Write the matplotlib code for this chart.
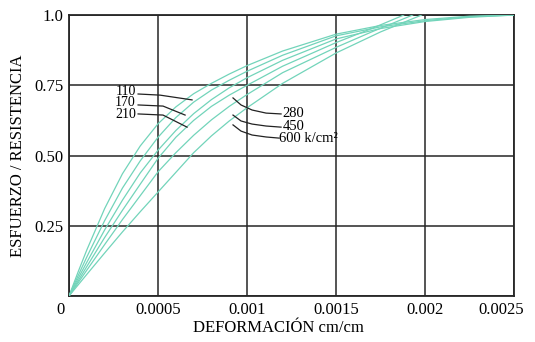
#!/usr/bin/env python3
# -*- coding: utf-8 -*-

import numpy as np
import matplotlib
matplotlib.use('Agg')
import matplotlib.pyplot as plt
import matplotlib.transforms as mtrans

plt.rcParams['font.family'] = ['Liberation Serif', 'DejaVu Serif']

# strain in units of 1e-3 cm/cm, stress as fraction of strength
e_110 = [0, 0.05, 0.1, 0.2, 0.3, 0.4, 0.5, 0.6, 0.7, 0.8, 0.9, 1.0, 1.2, 1.5, 1.75, 2.0, 2.25, 2.5]
f_110 = [0, 0.084, 0.164, 0.311, 0.435, 0.534, 0.613, 0.673, 0.72, 0.757, 0.79, 0.82, 0.872, 0.932, 0.963, 0.984, 0.996, 1.0]
e_170 = [0, 0.05, 0.1, 0.2, 0.3, 0.4, 0.5, 0.6, 0.7, 0.8, 0.9, 1.0, 1.2, 1.5, 1.75, 2.0, 2.25, 2.5]
f_170 = [0, 0.071, 0.139, 0.268, 0.384, 0.481, 0.565, 0.635, 0.69, 0.733, 0.768, 0.80, 0.857, 0.926, 0.958, 0.98, 0.994, 1.0]
e_210 = [0, 0.05, 0.1, 0.2, 0.3, 0.4, 0.5, 0.6, 0.7, 0.8, 0.9, 1.0, 1.2, 1.5, 1.75, 2.0, 2.25, 2.5]
f_210 = [0, 0.061, 0.12, 0.235, 0.341, 0.438, 0.519, 0.589, 0.649, 0.699, 0.741, 0.777, 0.839, 0.915, 0.952, 0.977, 0.992, 1.0]
e_280 = [0, 0.1, 0.2, 0.3, 0.4, 0.5, 0.6, 0.7, 0.8, 0.9, 1.0, 1.2, 1.5, 1.7, 1.88]
f_280 = [0, 0.105, 0.208, 0.305, 0.398, 0.49, 0.565, 0.625, 0.675, 0.715, 0.75, 0.818, 0.902, 0.952, 1.0]
e_450 = [0, 0.1, 0.2, 0.3, 0.4, 0.5, 0.6, 0.7, 0.8, 0.9, 1.0, 1.2, 1.5, 1.7, 1.93]
f_450 = [0, 0.092, 0.183, 0.272, 0.357, 0.442, 0.51, 0.572, 0.627, 0.675, 0.717, 0.795, 0.885, 0.94, 1.0]
e_600 = [0, 0.1, 0.2, 0.3, 0.4, 0.5, 0.6, 0.7, 0.8, 0.9, 1.0, 1.2, 1.5, 1.75, 1.98]
f_600 = [0, 0.077, 0.153, 0.228, 0.3, 0.37, 0.44, 0.51, 0.57, 0.623, 0.67, 0.757, 0.865, 0.94, 1.0]

curves = [(e_110, f_110), (e_170, f_170), (e_210, f_210),
          (e_280, f_280), (e_450, f_450), (e_600, f_600)]

x_ticks = [0, 0.0005, 0.001, 0.0015, 0.002, 0.0025]
x_labels = ['0', '0.0005', '0.001', '0.0015', '0.002', '0.0025']
y_ticks = [0, 0.25, 0.5, 0.75, 1.0]
y_labels = ['', '0.25', '0.50', '0.75', '1.0']

# label text, text anchor, leader line (strain, stress)
left_notes = [
    ('110', (0.000375, 0.729), [(0.000388, 0.719), (0.000511, 0.715), (0.000691, 0.698)]),
    ('170', (0.000375, 0.687), [(0.000388, 0.680), (0.000528, 0.676), (0.000652, 0.644)]),
    ('210', (0.000375, 0.645), [(0.000388, 0.648), (0.000528, 0.644), (0.000663, 0.601)]),
]
right_notes = [
    ('280', (0.00120, 0.650), [(0.000921, 0.705), (0.000966, 0.680), (0.001028, 0.662), (0.001107, 0.651), (0.001191, 0.648)]),
    ('450', (0.00120, 0.605), [(0.000921, 0.644), (0.000966, 0.623), (0.001028, 0.612), (0.001107, 0.605), (0.001191, 0.601)]),
    ('600 k/cm\u00b2', (0.00118, 0.562), [(0.000921, 0.609), (0.000966, 0.587), (0.001028, 0.573), (0.001107, 0.566), (0.00118, 0.562)]),
]

fig = plt.figure(figsize=(5.35, 3.42), dpi=100)
ax = fig.add_axes([0.129, 0.1345, 0.832, 0.8215])

for e, f in curves:
    ax.plot(np.array(e) * 1e-3, f, color='#72d4ba', lw=0.9, zorder=3)

for txt, pos, pts in left_notes:
    px, py = zip(*pts)
    ax.plot(px, py, color='#222222', lw=0.9, zorder=4)
    ax.text(pos[0], pos[1], txt, ha='right', va='center', fontsize=10)
for txt, pos, pts in right_notes:
    px, py = zip(*pts)
    ax.plot(px, py, color='#222222', lw=0.9, zorder=4)
    ax.text(pos[0], pos[1], txt, ha='left', va='center', fontsize=10.5)

ax.set_xlim(0, 0.0025)
ax.set_ylim(0, 1.0)
ax.set_xticks(x_ticks)
ax.set_xticklabels(x_labels)
ax.set_yticks(y_ticks)
ax.set_yticklabels(y_labels)
ax.tick_params(length=0, labelsize=12, pad=4)
ax.grid(True, color='#262626', lw=1.1)
ax.set_axisbelow(True)
for s in ax.spines.values():
    s.set_color('#262626')
    s.set_linewidth(1.3)

# nudge the end labels like in the printed figure
xl = ax.get_xticklabels()
xl[0].set_transform(xl[0].get_transform() + mtrans.ScaledTranslation(-6 / 72, 0, fig.dpi_scale_trans))
xl[-1].set_transform(xl[-1].get_transform() + mtrans.ScaledTranslation(-9 / 72, 0, fig.dpi_scale_trans))

ax.set_xlabel('DEFORMACIÓN cm/cm', fontsize=12)
ax.xaxis.set_label_coords(0.47, -0.085)
ax.set_ylabel('ESFUERZO / RESISTENCIA', fontsize=12, labelpad=6)

plt.savefig('out.png', dpi=100)
